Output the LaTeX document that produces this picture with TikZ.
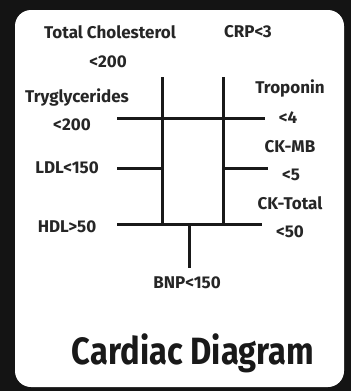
\documentclass[tikz,border=0pt]{standalone}
\usepackage{fontspec}
\setmainfont{Fira Sans}
\begin{document}
\begin{tikzpicture}[x=1pt,y=-1pt,
  lab/.style={font=\fontsize{17}{19}\selectfont\bfseries, inner sep=0pt, text=black!85},
  ln/.style={line width=3pt, black!90}]
\fill[black!92] (0,0) rectangle (351,391);
\useasboundingbox (0,0) rectangle (351,391);
\fill[white, rounded corners=16pt] (15,10) rectangle (344,387);
% coordinates
\coordinate (Ltop) at (162,77);
\coordinate (Rtop) at (223,77);
\coordinate (Lmid) at (162,118);
\coordinate (Rmid) at (223,118);
\coordinate (Lldl) at (162,168);
\coordinate (Rck) at (223,168);
\coordinate (Lbot) at (162,224);
\coordinate (Rbot) at (223,224);
\coordinate (Bnp) at (189,224);
\coordinate (TgEnd) at (117,118);
\coordinate (TrEnd) at (265,118);
\coordinate (LdlEnd) at (117,168);
\coordinate (CkEnd) at (268,168);
\coordinate (HdlEnd) at (117,224);
\coordinate (CktEnd) at (262,224);
\coordinate (BnpEnd) at (189,268);
% lines
\draw[ln] (Ltop) -- (Lbot);
\draw[ln] (Rtop) -- (Rbot);
\draw[ln] (TgEnd) -- (TrEnd);
\draw[ln] (LdlEnd) -- (Lldl);
\draw[ln] (Rck) -- (CkEnd);
\draw[ln] (HdlEnd) -- (CktEnd);
\draw[ln] (Bnp) -- (BnpEnd);
% labels
\node[lab] (tc) at (110,32) {Total Cholesterol};
\node[lab] (tcv) at (108,62) {<200};
\node[lab] (crp) at (248,32) {CRP<3};
\node[lab] (tg) at (77,97) {Tryglycerides};
\node[lab] (tgv) at (72,125) {<200};
\node[lab] (tr) at (290,88) {Troponin};
\node[lab] (trv) at (288,118) {<4};
\node[lab] (ckmb) at (290,147) {CK-MB};
\node[lab] (ckmbv) at (291,175) {<5};
\node[lab] (ldl) at (67,168) {LDL<150};
\node[lab] (ckt) at (290,203) {CK-Total};
\node[lab] (cktv) at (290,232) {<50};
\node[lab] (hdl) at (67,227) {HDL>50};
\node[lab] (bnp) at (187,283) {BNP<150};
\node[inner sep=0pt, text=black!90] (title) at (193,353) {\scalebox{0.86}[1]{\fontsize{38}{40}\selectfont\bfseries Cardiac Diagram}};
\end{tikzpicture}
\end{document}
